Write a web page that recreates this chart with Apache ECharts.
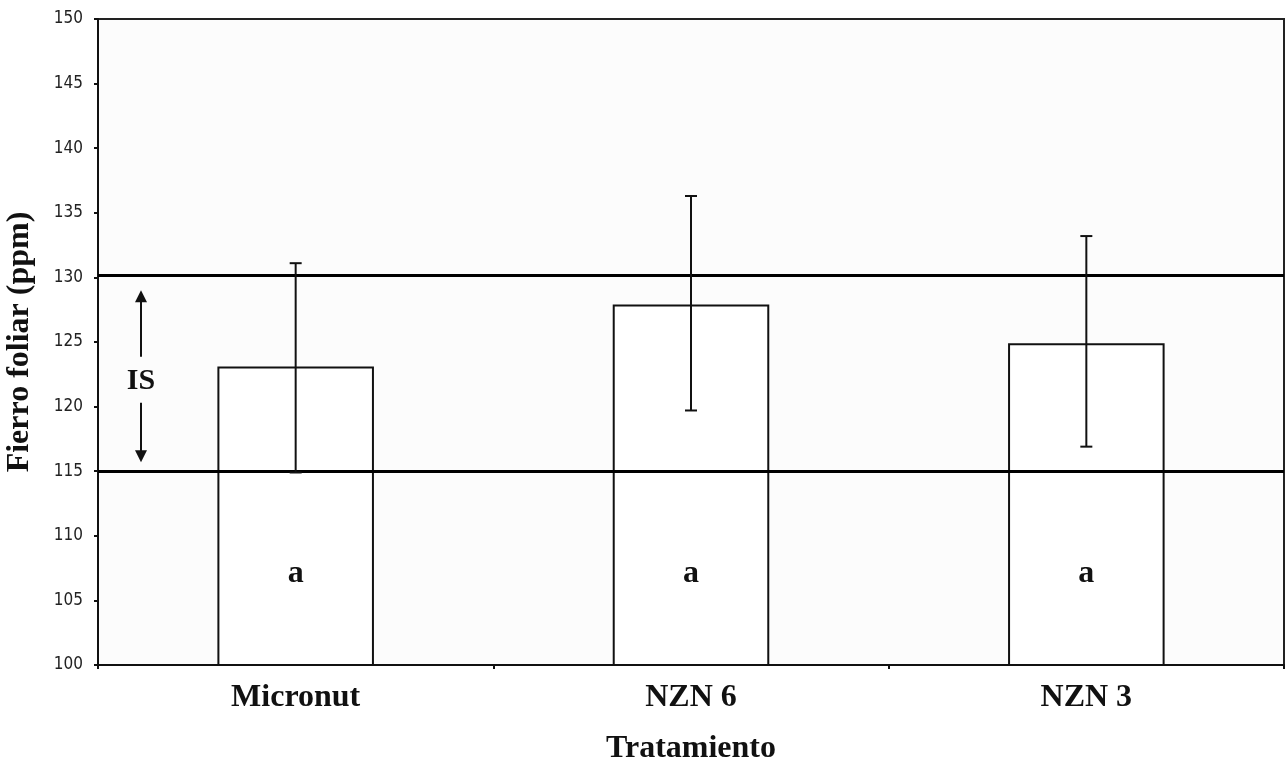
<!DOCTYPE html>
<html>
<head>
<meta charset="utf-8">
<script src="https://cdn.jsdelivr.net/npm/echarts@6/dist/echarts.min.js"></script>
<style>
html,body{margin:0;padding:0;background:#fff;}
#chart{width:1285px;height:761px;}
</style>
</head>
<body>
<div id="chart"></div>
<script>
var categories = ['Micronut', 'NZN 6', 'NZN 3'];
var means = [123.1, 127.9, 124.9];
var errLow = [114.9, 119.7, 116.9];
var errHigh = [131.1, 136.3, 133.2];
var groupLetters = ['a', 'a', 'a'];
var isUpper = 130.2;
var isLower = 115;
var isArrowTop = 129;
var isArrowBottom = 115.7;
var isTextY = 122;
var yMin = 100, yMax = 150, yStep = 5;

var serif = '"Liberation Serif", "DejaVu Serif", serif';
var narrow = '"Liberation Sans Narrow", "DejaVu Sans Condensed", "Liberation Sans", sans-serif';

var chart = echarts.init(document.getElementById('chart'));

var errData = categories.map(function (c, i) { return [i, errLow[i], errHigh[i]]; });

var option = {
  backgroundColor: '#ffffff',
  animation: false,
  grid: {left: 98, right: 1, top: 19, bottom: 96, containLabel: false, outerBoundsMode: 'none',
         show: true, borderColor: '#222', borderWidth: 2, backgroundColor: '#fcfcfc'},
  xAxis: {
    type: 'category',
    data: categories,
    boundaryGap: true,
    axisLine: {lineStyle: {color: '#111', width: 2}},
    axisTick: {show: true, length: 4, lineStyle: {color: '#111', width: 2}},
    axisLabel: {fontFamily: serif, fontWeight: 'bold', fontSize: 32, color: '#111', margin: 17},
    name: 'Tratamiento',
    nameLocation: 'middle',
    nameGap: 68,
    nameTextStyle: {fontFamily: serif, fontWeight: 'bold', fontSize: 32, color: '#111'}
  },
  yAxis: {
    type: 'value',
    min: yMin, max: yMax, interval: yStep,
    splitLine: {show: false},
    axisLine: {show: true, lineStyle: {color: '#111', width: 2}},
    axisTick: {show: true, length: 4, lineStyle: {color: '#111', width: 2}},
    axisLabel: {fontFamily: narrow, fontSize: 17, color: '#222', margin: 15},
    name: 'Fierro foliar (ppm)',
    nameLocation: 'middle',
    nameGap: 62,
    nameTextStyle: {fontFamily: serif, fontWeight: 'bold', fontSize: 32, color: '#111'}
  },
  series: [
    {
      type: 'bar',
      data: means.map(function (v, i) {
        return {value: v, label: {formatter: groupLetters[i]}};
      }),
      barWidth: '39.6%',
      itemStyle: {color: '#ffffff', borderColor: '#111', borderWidth: 2},
      label: {
        show: true,
        position: 'insideBottom',
        distance: 76,
        fontFamily: serif, fontWeight: 'bold', fontSize: 32, color: '#111'
      },
      markLine: {
        silent: true,
        symbol: ['none', 'none'],
        label: {show: false},
        lineStyle: {color: '#000', width: 3, type: 'solid'},
        data: [{yAxis: isUpper}, {yAxis: isLower}]
      },
      z: 2
    },
    {
      type: 'custom',
      data: errData,
      z: 5,
      renderItem: function (params, api) {
        var x = api.value(0);
        var lo = api.coord([x, api.value(1)]);
        var hi = api.coord([x, api.value(2)]);
        var cap = 6;
        var st = {stroke: '#111', lineWidth: 2};
        return {
          type: 'group',
          children: [
            {type: 'line', shape: {x1: hi[0], y1: hi[1], x2: lo[0], y2: lo[1]}, style: st},
            {type: 'line', shape: {x1: hi[0] - cap, y1: hi[1], x2: hi[0] + cap, y2: hi[1]}, style: st},
            {type: 'line', shape: {x1: lo[0] - cap, y1: lo[1], x2: lo[0] + cap, y2: lo[1]}, style: st}
          ]
        };
      }
    }
  ]
};
chart.setOption(option);

function drawIS() {
  var x = 141;
  var yTop = chart.convertToPixel({yAxisIndex: 0}, isArrowTop);
  var yBot = chart.convertToPixel({yAxisIndex: 0}, isArrowBottom);
  var yTxt = chart.convertToPixel({yAxisIndex: 0}, isTextY);
  var head = 10, hw = 6;
  chart.setOption({
    graphic: [
      {type: 'line', shape: {x1: x, y1: yTop + head, x2: x, y2: yTxt - 24}, style: {stroke: '#111', lineWidth: 2}},
      {type: 'line', shape: {x1: x, y1: yTxt + 22, x2: x, y2: yBot - head}, style: {stroke: '#111', lineWidth: 2}},
      {type: 'polygon', shape: {points: [[x, yTop], [x - hw, yTop + head + 2], [x + hw, yTop + head + 2]]}, style: {fill: '#111'}},
      {type: 'polygon', shape: {points: [[x, yBot], [x - hw, yBot - head - 2], [x + hw, yBot - head - 2]]}, style: {fill: '#111'}},
      {type: 'text', x: x, y: yTxt, style: {text: 'IS', fontFamily: serif, fontWeight: 'bold', fontSize: 30, fill: '#111', align: 'center', verticalAlign: 'middle'}}
    ]
  });
}
drawIS();
</script>
</body>
</html>
